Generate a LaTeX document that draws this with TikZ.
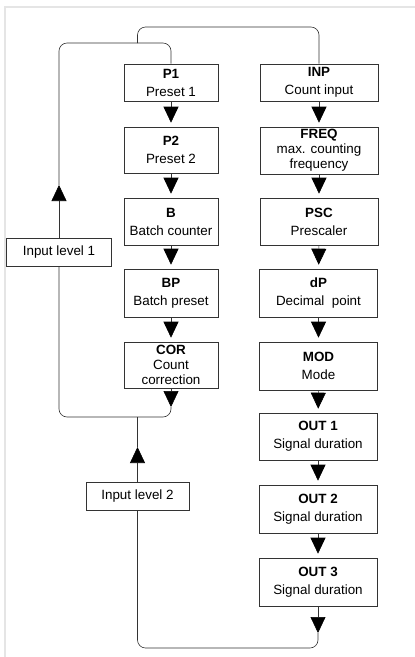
\documentclass[tikz,border=0pt]{standalone}
\usepackage{fontspec}
\setmainfont{Liberation Sans}
\usetikzlibrary{arrows.meta}
\begin{document}
\begin{tikzpicture}[x=1pt,y=-1pt,
  box/.style={draw=black!80, line width=0.6pt, align=center, inner sep=0pt,
    font=\fontsize{13.4}{15}\selectfont},
  lbox/.style={box, minimum width=94pt},
  rbox/.style={box, minimum width=118pt},
  ilbox/.style={box, minimum height=28pt},
  conn/.style={draw=black!80, line width=0.6pt},
  arr/.style={conn, -{Triangle[width=15pt,length=16pt,color=black]}},
  loop/.style={conn, rounded corners=8pt}]
\useasboundingbox (0,0) rectangle (415,657);
\draw[black!10, line width=1.5pt] (5,657) -- (5,7) -- (415,7);
% left column
\node[lbox, minimum height=37pt] (P1) at (171,82.5) {\textbf{P1}\\[3pt]Preset 1};
\node[lbox, minimum height=46pt] (P2) at (171,150) {\textbf{P2}\\[3pt]Preset 2};
\node[lbox, minimum height=47pt] (B) at (171,221.5) {\textbf{B}\\[3pt]Batch counter};
\node[lbox, minimum height=48pt] (BP) at (171,293) {\textbf{BP}\\[3pt]Batch preset};
\node[lbox, minimum height=46pt] (COR) at (171,365) {\textbf{COR}\\Count\\correction};
% right column
\node[rbox, minimum height=37pt] (INP) at (319,82.5) {\textbf{INP}\\[3pt]Count input};
\node[rbox, minimum height=47pt] (FREQ) at (319,150.5) {\textbf{FREQ}\\max. counting\\frequency};
\node[rbox, minimum height=47pt] (PSC) at (319,221.5) {\textbf{PSC}\\[3pt]Prescaler};
\node[rbox, minimum height=48pt] (dP) at (318.5,293) {\textbf{dP}\\[3pt]Decimal\ \ point};
\node[rbox, minimum height=48pt] (MOD) at (318.5,366) {\textbf{MOD}\\[3pt]Mode};
\node[rbox, minimum height=47pt] (OUT1) at (318,436.5) {\textbf{OUT 1}\\[3pt]Signal duration};
\node[rbox, minimum height=48pt] (OUT2) at (318,509) {\textbf{OUT 2}\\[3pt]Signal duration};
\node[rbox, minimum height=48pt] (OUT3) at (318,582) {\textbf{OUT 3}\\[3pt]Signal duration};
% input level boxes
\node[ilbox, minimum width=105pt] (IL1) at (59,252) {Input level 1};
\node[ilbox, minimum width=103pt] (IL2) at (137.5,496) {Input level 2};
% arrows in columns
\foreach \a/\b in {P1/P2,P2/B,B/BP,BP/COR,INP/FREQ,FREQ/PSC,PSC/dP,dP/MOD,MOD/OUT1,OUT1/OUT2,OUT2/OUT3}
  \draw[arr, shorten >=4pt] (\a) -- (\b);
% coordinates
\coordinate (ytop) at (0,43);
\coordinate (ytop2) at (0,27);
\coordinate (ybot) at (0,417);
\coordinate (ybot2) at (0,648);
\coordinate (x2) at (137.5,0);
\coordinate (a1) at (59,185);
\coordinate (a2) at (137.5,447);
\coordinate (a3) at (171,407);
\coordinate (a4) at (318,633);
% left loop (input level 1)
\draw[arr] (IL1.north) -- (a1);
\draw[loop] (a1) -- (IL1.north |- ytop) -- (P1.north |- ytop) -- (P1.north);
\draw[arr] (COR.south) -- (a3);
\draw[loop] (a3) -- (COR.south |- ybot) -- (IL1.south |- ybot) -- (IL1.south);
% top loop to INP
\draw[loop] (x2 |- ytop) -- (x2 |- ytop2) -- (INP.north |- ytop2) -- (INP.north);
% input level 2
\draw[arr] (IL2.north) -- (a2);
\draw[conn] (a2) -- (x2 |- ybot);
\draw[arr] (OUT3.south) -- (a4);
\draw[loop] (a4) -- (OUT3.south |- ybot2) -- (IL2.south |- ybot2) -- (IL2.south);
\end{tikzpicture}
\end{document}
